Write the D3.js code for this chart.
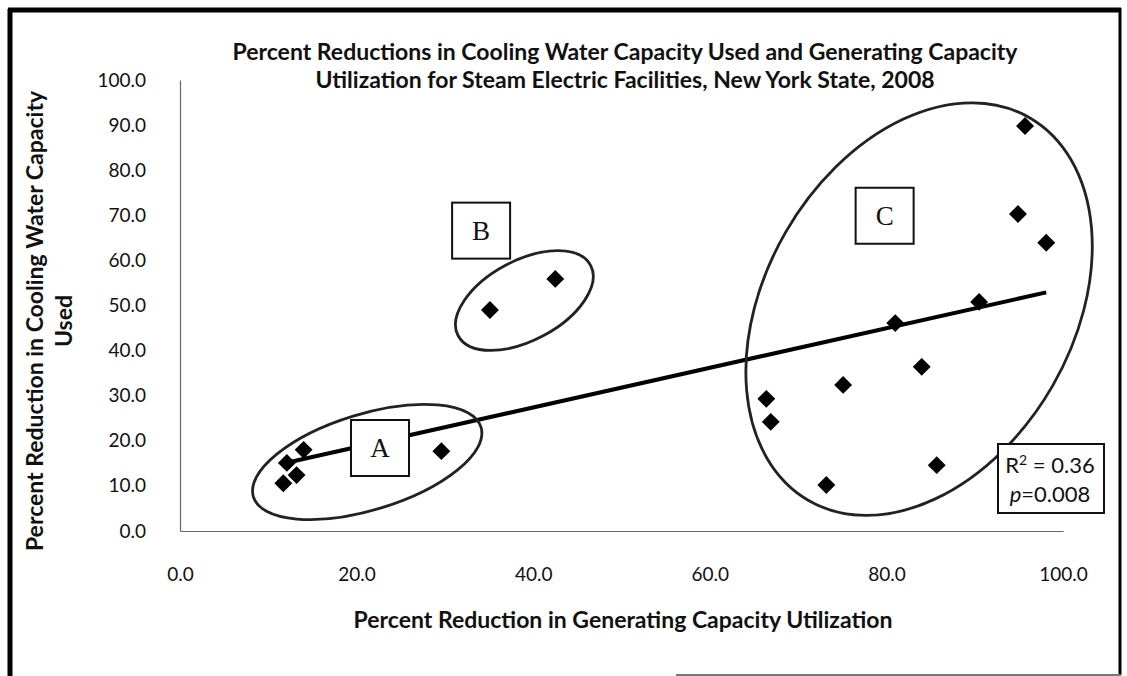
<!DOCTYPE html>
<html>
<head>
<meta charset="utf-8">
<script src="https://d3js.org/d3.v7.min.js"></script>
<style>
  body { margin: 0; background: #fff; }
  text { font-family: Lato, "Open Sans", sans-serif; fill: #111; }
</style>
</head>
<body>
<div id="chart"></div>
<script>
// data
var genReduction   = [11.7, 12.1, 13.2, 14.0, 29.6, 35.1, 42.5, 66.4, 66.9, 75.1, 73.2, 81.0, 84.0, 85.7, 90.5, 95.7, 94.9, 98.1];
var waterReduction = [10.6, 15.1, 12.4, 18.0, 17.7, 49.0, 55.9, 29.3, 24.2, 32.4, 10.2, 46.1, 36.4, 14.6, 50.8, 89.8, 70.3, 63.9];
var xTicks = [0, 20, 40, 60, 80, 100];
var yTicks = [0, 10, 20, 30, 40, 50, 60, 70, 80, 90, 100];
var titleLines = ["Percent Reductions in Cooling Water Capacity Used and Generating Capacity",
                  "Utilization for Steam Electric Facilities, New York State, 2008"];
var xTitle = "Percent Reduction in Generating Capacity Utilization";
var yTitleLines = ["Percent Reduction in Cooling Water Capacity", "Used"];
var groupNames = ["A", "B", "C"];
var statR2 = "0.36";
var statP = "0.008";

var W = 1127, H = 676;

var svg = d3.select("#chart")
    .append("svg")
        .attr("width", W)
        .attr("height", H);

// outer frame of the scanned figure
svg.append("line").attr("x1", 10).attr("x2", 10).attr("y1", 9).attr("y2", H)
    .attr("stroke", "#000").attr("stroke-width", 5);
svg.append("line").attr("x1", 8).attr("x2", 1121).attr("y1", 10).attr("y2", 10)
    .attr("stroke", "#000").attr("stroke-width", 5);
svg.append("line").attr("x1", 1120).attr("x2", 1120).attr("y1", 8).attr("y2", 675)
    .attr("stroke", "#000").attr("stroke-width", 3);
svg.append("line").attr("x1", 676).attr("x2", 1121).attr("y1", 675).attr("y2", 675)
    .attr("stroke", "#777").attr("stroke-width", 2);

// scales
var x = d3.scaleLinear().domain([0, 100]).range([180, 1063]);
var y = d3.scaleLinear().domain([0, 100]).range([531, 80]);

// axes
var xAxis = svg.append("g")
    .attr("transform", "translate(0," + y(0) + ")")
    .call(d3.axisBottom(x).tickValues(xTicks).tickSize(0).tickPadding(37)
        .tickFormat(d3.format(".1f")));
var yAxis = svg.append("g")
    .attr("transform", "translate(" + x(0) + ",0)")
    .call(d3.axisLeft(y).tickValues(yTicks).tickSize(0).tickPadding(34)
        .tickFormat(d3.format(".1f")));
[xAxis, yAxis].forEach(function(g) {
    g.select(".domain").attr("stroke", "#666").attr("stroke-width", 1.2);
    g.selectAll("text").style("font-size", "19px").style("font-family", "Lato").attr("fill", "#111");
});

// trend line (least squares through the points)
var mx = d3.mean(genReduction), my = d3.mean(waterReduction);
var sxy = d3.sum(genReduction, function(v, i) { return (v - mx) * (waterReduction[i] - my); });
var sxx = d3.sum(genReduction, function(v) { return (v - mx) * (v - mx); });
var slope = sxy / sxx, icpt = my - slope * mx;
var xr = d3.extent(genReduction);
svg.append("line")
    .attr("x1", x(xr[0])).attr("y1", y(icpt + slope * xr[0]))
    .attr("x2", x(xr[1])).attr("y2", y(icpt + slope * xr[1]))
    .attr("stroke", "#000").attr("stroke-width", 4);

// group ellipses (centre in data units, size in px)
var ellipses = [
    {cx: 21.2, cy: 15.3, rx: 119, ry: 48, rot: -17},
    {cx: 39.0, cy: 51.1, rx: 75, ry: 40, rot: -28},
    {cx: 83.7, cy: 49.2, rx: 221, ry: 154, rot: -60}
];
svg.selectAll("ellipse.grp")
    .data(ellipses)
    .enter()
    .append("ellipse")
        .attr("class", "grp")
        .attr("transform", function(d) { return "translate(" + x(d.cx) + "," + y(d.cy) + ") rotate(" + d.rot + ")"; })
        .attr("rx", function(d) { return d.rx; })
        .attr("ry", function(d) { return d.ry; })
        .attr("fill", "none")
        .attr("stroke", "#222")
        .attr("stroke-width", 2.8);

// points
var pts = genReduction.map(function(v, i) { return [v, waterReduction[i]]; });
svg.selectAll("path.pt")
    .data(pts)
    .enter()
    .append("path")
        .attr("class", "pt")
        .attr("d", d3.symbol(d3.symbolSquare, 160))
        .attr("transform", function(d) { return "translate(" + x(d[0]) + "," + y(d[1]) + ") rotate(45)"; })
        .attr("fill", "#000");

// group label boxes
var labelPos = [[22.65, 18.4], [34.1, 66.6], [79.8, 69.9]];
var lbl = svg.selectAll("g.lbl")
    .data(groupNames)
    .enter()
    .append("g")
        .attr("class", "lbl")
        .attr("transform", function(d, i) { return "translate(" + x(labelPos[i][0]) + "," + y(labelPos[i][1]) + ")"; });
lbl.append("rect")
    .attr("x", -29).attr("y", -28).attr("width", 58).attr("height", 56)
    .attr("fill", "#fff").attr("stroke", "#111").attr("stroke-width", 2);
lbl.append("text")
    .attr("text-anchor", "middle")
    .attr("dy", "0.35em")
    .style("font-family", "'Liberation Serif', serif")
    .style("font-size", "27px")
    .text(function(d) { return d; });

// R² / p box
var stat = svg.append("g");
stat.append("rect")
    .attr("x", 998).attr("y", 444).attr("width", 106).attr("height", 69)
    .attr("fill", "#fff").attr("stroke", "#111").attr("stroke-width", 2);
var t1 = stat.append("text").attr("x", 1050).attr("y", 473).attr("text-anchor", "middle")
    .style("font-size", "22px");
t1.append("tspan").text("R");
t1.append("tspan").attr("dy", -8).style("font-size", "14px").text("2");
t1.append("tspan").attr("dy", 8).text(" = " + statR2);
var t2 = stat.append("text").attr("x", 1050).attr("y", 502).attr("text-anchor", "middle")
    .style("font-size", "22px");
t2.append("tspan").style("font-style", "italic").text("p");
t2.append("tspan").text("=" + statP);

// title
svg.selectAll("text.title")
    .data(titleLines)
    .enter()
    .append("text")
        .attr("class", "title")
        .attr("x", 625)
        .attr("y", function(d, i) { return 60 + i * 28; })
        .attr("text-anchor", "middle")
        .style("font-size", "23px")
        .style("font-weight", "bold")
        .text(function(d) { return d; });

// axis titles
svg.append("text")
    .attr("x", 623)
    .attr("y", 628)
    .attr("text-anchor", "middle")
    .style("font-size", "23px")
    .style("font-weight", "bold")
    .text(xTitle);

svg.selectAll("text.ytitle")
    .data(yTitleLines)
    .enter()
    .append("text")
        .attr("class", "ytitle")
        .attr("transform", function(d, i) { return "translate(" + (43 + i * 29) + ",321) rotate(-90)"; })
        .attr("text-anchor", "middle")
        .style("font-size", "23px")
        .style("font-weight", "bold")
        .text(function(d) { return d; });
</script>
</body>
</html>
